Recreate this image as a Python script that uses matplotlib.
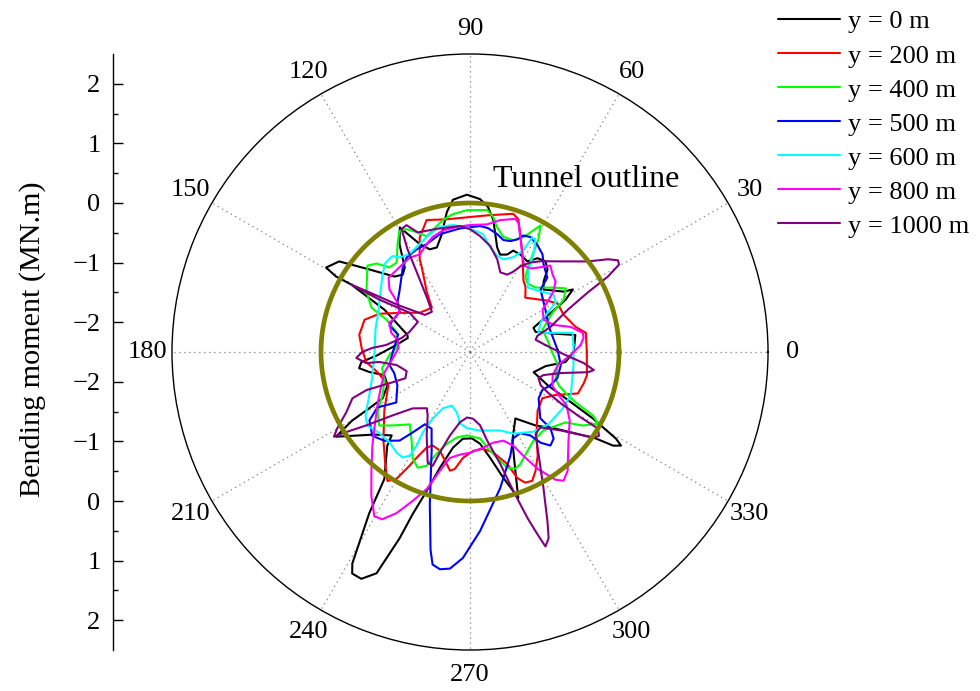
import numpy as np
import matplotlib
matplotlib.use("Agg")
import matplotlib.pyplot as plt
from matplotlib.ticker import FixedLocator, FixedFormatter

plt.rcParams['font.family'] = ['Liberation Serif', 'DejaVu Serif']

# ---------------- data (angle in degrees, bending moment in MN.m) ----------------
series_labels = ['y = 0 m', 'y = 200 m', 'y = 400 m', 'y = 500 m',
                 'y = 600 m', 'y = 800 m', 'y = 1000 m']
series_colors = ['#000000', '#ff0000', '#00ff00', '#0000ff',
                 '#00ffff', '#ff00ff', '#800080']

theta_0m = [0, 9.2, 12, 17.1, 20.9, 27.3, 28.7, 31.3, 32.8, 40.3, 43.8, 46.8, 50.2, 54.2, 57.7,
            62.7, 66.9, 69.1, 72.8, 75.4, 80, 82.9, 86.2, 91.1, 96.4, 99.4, 103.5, 107.6, 111.4,
            115, 119.4, 123.2, 127.7, 131, 135, 140.6, 145.3, 149.6, 150.6, 150.4, 153.7, 164.7,
            167.3, 174.5, 181.9, 185.3, 188.3, 191.3, 195.1, 201.9, 207.9, 209.2, 210.2, 212.3,
            220.8, 226.8, 228.6, 236, 238, 240.9, 242, 244.4, 247.1, 249.3, 250.5, 252.7, 255.4,
            259.9, 265.3, 271.3, 276.3, 280.8, 284.8, 288.3, 290.9, 295.5, 304.3, 311.7, 318.2,
            325.5, 326.8, 328.2, 329.3, 331.6, 334.2, 336.8, 342.4, 349.4, 354]
r_0m = [-0.76, -0.71, -1.03, -1.35, -1.36, -0.84, -0.67, -0.48, -0.63, -0.88, -0.79, -0.6, -0.52,
        -0.56, -0.7, -0.66, -0.65, -0.75, -0.79, -0.69, -0.25, -0.05, 0.07, 0.14, 0.07, -0.12,
        -0.47, -0.66, -0.65, -0.5, -0.1, -0.34, -0.71, -0.78, -0.71, -0.32, 0.17, 0.3, 0.08,
        -0.21, -0.9, -1.41, -1.43, -1.26, -0.95, -0.67, -0.62, -0.78, -1.01, -1.01, -0.84, -0.56,
        -0.21, 0.16, -0.38, -0.58, -0.4, 0.07, 0.69, 1.56, 1.71, 1.72, 1.53, 0.84, 0.39, -0.06,
        -0.49, -0.87, -1.04, -1.05, -0.95, -0.69, -0.32, 0.08, -0.37, -0.85, -1.15, -0.85, -0.57,
        0.06, 0.37, 0.48, 0.35, -0.16, -0.72, -1.08, -1.38, -1.21, -0.89]

theta_200m = [0, 9.4, 13.4, 21.7, 28.9, 33.5, 44.5, 49.3, 53.3, 61.8, 66.9, 70, 72.6, 82.9, 91.3,
              99.9, 108.2, 113.7, 118.5, 119.7, 125.6, 130.8, 142, 150.9, 157.1, 163, 171.2, 177.9,
              185.5, 192.3, 202.2, 214.3, 225.7, 233.4, 237.4, 239.9, 242, 243.2, 245.6, 248.3,
              253, 258.3, 260.4, 262.6, 266.2, 271.8, 277.7, 283, 288.4, 290.6, 292.9, 295.8,
              298.8, 303.1, 308.5, 319.1, 327.4, 333.2, 339, 344.7, 348.8]
r_200m = [-0.54, -0.53, -0.68, -0.81, -0.82, -0.94, -1.2, -1.07, -1.0, -0.64, -0.35, -0.13, -0.07,
          -0.19, -0.24, -0.24, -0.17, -0.4, -0.73, -0.87, -1.25, -1.52, -1.43, -1.15, -0.85,
          -0.65, -0.62, -0.68, -0.75, -0.91, -1.02, -0.76, -0.42, -0.12, 0.07, -0.04, -0.34,
          -0.51, -0.74, -0.81, -0.77, -0.58, -0.48, -0.52, -0.72, -0.84, -0.86, -0.77, -0.52,
          -0.24, -0.12, -0.1, -0.22, -0.42, -0.71, -1.0, -1.06, -0.9, -0.56, -0.52, -0.5]

theta_400m = [2.9, 8, 17, 25.4, 29.2, 33.6, 37.6, 44.6, 50, 53.7, 55.7, 57.5, 58.7, 60.9, 62.5,
              65.1, 68.8, 73.9, 77.7, 80.3, 83.1, 91.2, 97.1, 101.6, 107, 110.5, 114, 117.3,
              120.3, 123.9, 129.4, 133.6, 136.6, 139.9, 149.8, 155.8, 158.9, 164.7, 176, 182.1,
              190.4, 198.2, 206.3, 213.1, 219, 223.5, 230.2, 236.6, 241.7, 245.7, 249.2, 251.9,
              255.8, 261.3, 268, 276.6, 281.5, 285.5, 287.8, 291.2, 294.2, 300.2, 305.6, 313.1,
              323.6, 326.9, 330.8, 332.7, 334.5, 336.7, 339.4, 343, 351.5]
r_400m = [-1.15, -1.18, -1.23, -0.97, -0.7, -0.57, -0.73, -0.96, -1.0, -0.93, -0.76, -0.52, -0.29,
          -0.07, -0.2, -0.38, -0.49, -0.49, -0.36, -0.2, -0.1, -0.12, -0.17, -0.24, -0.36, -0.43,
          -0.3, -0.18, -0.15, -0.32, -0.56, -0.54, -0.34, -0.25, -0.49, -0.69, -1.0, -1.22,
          -1.28, -1.15, -1.0, -0.99, -0.86, -0.65, -0.54, -0.71, -0.92, -0.72, -0.47, -0.37,
          -0.46, -0.71, -0.91, -1.05, -1.1, -1.04, -0.81, -0.61, -0.46, -0.4, -0.44, -0.58,
          -0.67, -0.7, -0.51, -0.24, -0.04, -0.18, -0.54, -0.75, -0.91, -1.0, -1.01]

theta_500m = [1.3, 10.4, 17.8, 29.2, 41.5, 43.9, 50, 53.4, 57.7, 62.2, 65.4, 67.2, 70, 73.4, 77,
              81.7, 85.4, 94.6, 104.4, 111.9, 117.5, 123.8, 128.6, 132.6, 139.4, 145.2, 150.3,
              159, 162, 166.3, 180.7, 189.2, 195.6, 204.6, 214.4, 210.9, 214.2, 220.6, 226, 231.5,
              234.5, 238, 243.4, 248.8, 255.2, 258.7, 260, 262.1, 264.7, 268, 273.2, 282.5,
              291.2, 296.6, 301.7, 305.9, 307.9, 310.7, 314, 316.5, 316.7, 325.9, 332.2, 337.6,
              343.4, 351.8]
r_500m = [-1.03, -1.09, -1.11, -1.05, -0.92, -0.7, -0.58, -0.46, -0.38, -0.32, -0.35, -0.45,
          -0.52, -0.54, -0.47, -0.4, -0.38, -0.42, -0.46, -0.55, -0.56, -0.59, -0.69, -0.8,
          -0.94, -1.02, -1.14, -1.09, -1.08, -1.26, -1.2, -1.13, -1.18, -1.16, -1.0, -0.69,
          -0.46, -0.34, -0.43, -0.6, -0.84, -1.07, -1.06, -0.72, 0.14, 0.88, 1.12, 1.18, 1.15,
          0.96, 0.51, -0.16, -0.63, -0.88, -0.9, -0.77, -0.57, -0.43, -0.48, -0.64, -0.88,
          -1.11, -1.13, -1.04, -0.97, -0.96]

theta_600m = [3.9, 10.6, 13.4, 15.6, 22.5, 26.9, 30, 34.5, 40.6, 48.3, 54.4, 57, 59.6, 61.5,
              62.3, 65.4, 70.3, 74.3, 79.1, 83.7, 91.4, 97.7, 103.6, 108.9, 115, 121.7, 126.7,
              129, 133.7, 138.5, 146, 156.3, 166.8, 178.8, 195, 203.3, 211.2, 215.6, 222, 228.4,
              233.9, 237.5, 239.8, 240.3, 239.6, 240.7, 244.3, 251.2, 257.8, 262, 267.7, 277.3,
              291, 297.9, 308.6, 317.3, 328.7, 336.7, 352.8]
r_600m = [-0.76, -0.75, -1.11, -1.31, -1.22, -1.04, -0.84, -0.8, -0.94, -1.05, -0.82, -0.55,
          -0.33, -0.31, -0.57, -0.75, -0.85, -0.82, -0.71, -0.51, -0.41, -0.35, -0.34, -0.41,
          -0.5, -0.57, -0.52, -0.43, -0.44, -0.54, -0.69, -0.82, -0.87, -0.9, -0.8, -0.66,
          -0.45, -0.38, -0.46, -0.47, -0.41, -0.4, -0.49, -0.69, -0.93, -1.22, -1.45, -1.55,
          -1.46, -1.29, -1.22, -1.17, -1.09, -0.95, -0.79, -0.71, -0.68, -0.66, -0.75]

theta_800m = [3.6, 7.1, 9.6, 14, 18, 23.7, 30.3, 33, 35.9, 39.5, 43.2, 47.1, 50.2, 54.1, 57.9,
              61.8, 66.3, 69.4, 71.2, 77.1, 82.4, 90, 96, 102.6, 108, 111.9, 117.3, 122.5, 129.8,
              137.6, 142.2, 145.8, 149, 154.4, 160.1, 166.3, 170.5, 176.8, 185.9, 193.2, 200.6,
              207.8, 215.9, 223.8, 230.3, 235.6, 239.8, 242.3, 245.5, 248.9, 252.5, 255.7, 259.2,
              264.4, 270, 277.8, 284.3, 290.6, 294.8, 297.2, 300, 303.8, 306, 309.4, 318.1, 325.5,
              331.1, 333.9, 337.5, 344.3, 351.5, 358.3]
r_800m = [-0.64, -0.58, -0.58, -0.76, -1.03, -1.15, -1.09, -0.95, -0.77, -0.64, -0.6, -0.52,
          -0.65, -0.77, -0.79, -0.64, -0.4, -0.19, -0.14, -0.23, -0.34, -0.37, -0.39, -0.41,
          -0.47, -0.55, -0.66, -0.62, -0.65, -0.65, -0.79, -1.03, -1.12, -1.13, -1.06, -1.14,
          -1.27, -1.3, -1.18, -1.03, -0.91, -0.76, -0.54, -0.23, 0.09, 0.43, 0.69, 0.67, 0.47,
          0.18, -0.09, -0.44, -0.69, -0.77, -0.81, -0.88, -0.93, -0.91, -0.77, -0.54, -0.24,
          0.08, 0.17, 0.08, -0.28, -0.47, -0.65, -0.84, -1.0, -1.06, -1.01, -0.81]

theta_1000m = [5.3, 10.5, 13.4, 17.4, 23.4, 26.8, 28.7, 30.4, 31.8, 33.9, 37.6, 45, 52.1, 56,
               59.5, 61.7, 64.3, 69.2, 73.6, 79.2, 85, 90, 94.6, 105.1, 113.6, 116.6, 119.1,
               121.3, 124, 128.9, 133.5, 140.6, 146.7, 149, 150.4, 150, 147, 150, 161.6, 168.4,
               175.2, 177.6, 180, 183, 186.1, 186.3, 190.1, 196.8, 202.1, 201.2, 200.2, 201.5,
               206, 209.9, 211.9, 212.5, 215.3, 219.3, 224.5, 232.5, 236.3, 242.6, 249.1, 251.9,
               253.3, 256.5, 261.9, 267.4, 272.6, 277.8, 280.9, 285.1, 287.3, 289.1, 290.3,
               291.2, 292.9, 294.6, 298.4, 303.9, 308.7, 313, 319.1, 325.4, 327, 329.1, 329.5,
               330.5, 332.5, 334.8, 339.1, 342.5, 346.9, 350.3, 351.7, 354.4, 358.2]
r_1000m = [-1.23, -1.38, -1.34, -1.08, -0.71, -0.29, 0.14, 0.4, 0.42, 0.29, -0.01, -0.35, -0.57,
           -0.69, -0.83, -0.97, -1.06, -1.07, -0.88, -0.69, -0.55, -0.44, -0.38, -0.36, -0.31,
           -0.12, -0.14, -0.48, -0.93, -1.37, -1.57, -1.52, -1.08, -0.63, -0.21, -0.74, -1.29,
           -1.49, -1.43, -1.33, -1.09, -0.86, -0.69, -0.59, -0.75, -0.97, -1.25, -1.39, -1.33,
           -1.05, -0.65, -0.38, -0.19, 0.07, 0.19, 0.04, -0.37, -0.82, -1.15, -1.31, -1.22,
           -0.92, -0.51, -0.49, -0.74, -1.06, -1.31, -1.4, -1.38, -1.26, -0.99, -0.56, -0.06,
           0.45, 0.76, 1.0, 0.89, 0.62, 0.09, -0.44, -0.74, -0.77, -0.49, 0.03, 0.08, 0.0, -0.4,
           -0.75, -1.03, -1.19, -1.27, -1.21, -0.94, -0.49, -0.4, -0.58, -0.9]

series_theta = [theta_0m, theta_200m, theta_400m, theta_500m, theta_600m, theta_800m, theta_1000m]
series_r = [r_0m, r_200m, r_400m, r_500m, r_600m, r_800m, r_1000m]

tunnel_r = 0.0
r_min, r_max = -2.5, 2.5
angle_ticks = [0, 30, 60, 90, 120, 150, 180, 210, 240, 270, 300, 330]
angle_labels = [str(a) for a in angle_ticks]
bm_tick_values = [2, 1, 0, -1, -2]          # upper half, mirrored below the centre
bm_minor_values = [1.5, 0.5, -0.5, -1.5]

# ---------------- figure ----------------
fig = plt.figure(figsize=(9.8, 6.91), dpi=100)
ax = fig.add_axes([0.1755, 0.0593, 0.6082, 0.8626], projection='polar')
ax.set_ylim(r_min, r_max)
ax.set_yticks([])
ax.set_thetagrids(angle_ticks, angle_labels)
ax.grid(True, axis='x', linestyle=(0, (1, 3)), color='#808080', linewidth=0.9)
ax.tick_params(axis='x', labelsize=19, pad=11, length=0)
ax.spines['polar'].set_linewidth(1.0)
ax.spines['polar'].set_color('black')

handles = []
for th, rr, lab, col in zip(series_theta, series_r, series_labels, series_colors):
    t = np.deg2rad(np.append(th, th[0]))
    v = np.append(rr, rr[0])
    h, = ax.plot(t, v, color=col, lw=1.5, label=lab, zorder=3,
                 solid_joinstyle='round', solid_capstyle='round')
    handles.append(h)

circ = np.linspace(0, 2 * np.pi, 721)
ax.plot(circ, np.full_like(circ, tunnel_r), color='#808000', lw=3.4, zorder=4)
ax.text(np.deg2rad(56.1), 0.98, 'Tunnel outline', fontsize=23, ha='center', va='center')

# ---------------- left bending-moment scale ----------------
pos = ax.get_position()
ax2 = fig.add_axes([113 / 980, pos.y0, 0.001, pos.height])
half = r_max - r_min
ax2.set_ylim(-half, half)
ax2.set_xticks([])
major_pos = [v - r_min for v in bm_tick_values] + [-(v - r_min) for v in bm_tick_values[::-1]]
major_lab = [str(v).replace('-', '\u2212') for v in bm_tick_values] + \
            [str(v).replace('-', '\u2212') for v in bm_tick_values[::-1]]
minor_pos = [v - r_min for v in bm_minor_values] + [-(v - r_min) for v in bm_minor_values]
ax2.yaxis.set_major_locator(FixedLocator(major_pos))
ax2.yaxis.set_major_formatter(FixedFormatter(major_lab))
ax2.yaxis.set_minor_locator(FixedLocator(minor_pos))
ax2.tick_params(axis='y', which='major', direction='in', length=7, width=1, labelsize=19, pad=9)
ax2.tick_params(axis='y', which='minor', direction='in', length=3.5, width=1)
for s in ['top', 'right', 'bottom']:
    ax2.spines[s].set_visible(False)
ax2.spines['left'].set_linewidth(1.0)
ax2.patch.set_visible(False)
fig.text(33 / 980, 1 - 339 / 691, 'Bending moment (MN.m)', rotation=90,
         ha='center', va='center', fontsize=21.7)

fig.legend(handles=handles, labels=series_labels, loc='upper left',
           bbox_to_anchor=(778 / 980, 1 - 10 / 691), frameon=False, fontsize=19,
           handlelength=2.35, handletextpad=0.3, labelspacing=0.4,
           borderpad=0, borderaxespad=0)

fig.savefig('out.png', dpi=100)
